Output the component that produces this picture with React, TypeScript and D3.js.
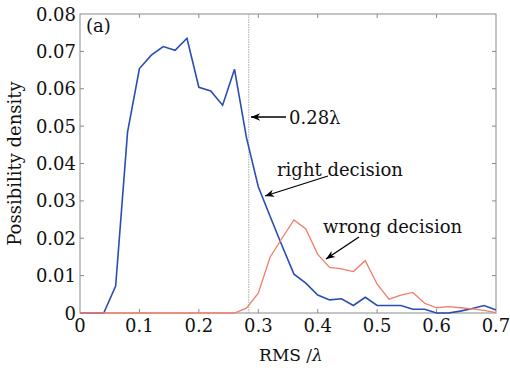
import * as d3 from 'd3';

// RMS/λ sampled every 0.02
const rms = d3.range(0, 36).map((i) => +(i * 0.02).toFixed(2));

const rightDecision = [
  0, 0, 0, 0.0072, 0.0484, 0.0654, 0.069, 0.0713, 0.0703, 0.0735, 0.0604, 0.0594, 0.0556, 0.0652, 0.047,
  0.0338, 0.0258, 0.018, 0.0104, 0.008, 0.0048, 0.0035, 0.0038, 0.002, 0.0042, 0.002, 0.002, 0.002, 0.001,
  0.001, 0.0, 0.0, 0.0005, 0.0012, 0.002, 0.0008,
];

const wrongDecision = [
  0, 0, 0, 0, 0, 0, 0, 0, 0, 0, 0, 0, 0, 0, 0.0013, 0.0053, 0.015, 0.02, 0.0249, 0.0225, 0.0157, 0.0122,
  0.0118, 0.0111, 0.014, 0.0077, 0.0037, 0.0048, 0.0055, 0.0026, 0.0014, 0.0017, 0.0014, 0.0011, 0.0007,
  0.0001,
];

const xTicks = [0, 0.1, 0.2, 0.3, 0.4, 0.5, 0.6, 0.7];
const yTicks = [0, 0.01, 0.02, 0.03, 0.04, 0.05, 0.06, 0.07, 0.08];
const threshold = 0.284;

export default function App() {
  const width = 510;
  const height = 370;
  const left = 80;
  const right = 496;
  const top = 14;
  const bottom = 313;

  const x = d3.scaleLinear().domain([0, 0.7]).range([left, right]);
  const y = d3.scaleLinear().domain([0, 0.08]).range([bottom, top]);

  const line = d3
    .line<number>()
    .x((_, i) => x(rms[i]))
    .y((d) => y(d));

  const font = 'DejaVu Serif, Liberation Serif, serif';
  const tickLen = 4;
  const frame = '#8a8a8a';

  return (
    <svg
      width={width}
      height={height}
      style={{ position: 'absolute', left: 0, top: 0, background: '#fff' }}
      fontFamily={font}
    >
      <defs>
        <marker id='arr' viewBox='0 0 10 10' refX='10' refY='5' markerWidth='9' markerHeight='7' orient='auto'>
          <path d='M0,1 L10,5 L0,9 L3,5 z' fill='#000' />
        </marker>
      </defs>
      <rect x={left} y={top} width={right - left} height={bottom - top} fill='#fff' stroke={frame} strokeWidth={1} />
      <g stroke={frame} strokeWidth={1}>
        {xTicks.slice(1, -1).map((t) => (
          <g key={'xt' + t}>
            <line x1={x(t)} x2={x(t)} y1={bottom} y2={bottom - tickLen} />
            <line x1={x(t)} x2={x(t)} y1={top} y2={top + tickLen} />
          </g>
        ))}
        {yTicks.slice(1, -1).map((t) => (
          <g key={'yt' + t}>
            <line x1={left} x2={left + tickLen} y1={y(t)} y2={y(t)} />
            <line x1={right} x2={right - tickLen} y1={y(t)} y2={y(t)} />
          </g>
        ))}
      </g>
      <g fontSize={18} fill='#111'>
        {xTicks.map((t) => (
          <text key={'xl' + t} x={x(t)} y={332} textAnchor='middle'>
            {t === 0 ? '0' : d3.format('.1f')(t)}
          </text>
        ))}
        {yTicks.map((t) => (
          <text key={'yl' + t} x={76} y={y(t) + 6.5} textAnchor='end'>
            {t === 0 ? '0' : d3.format('.2f')(t)}
          </text>
        ))}
      </g>
      <line
        x1={x(threshold)}
        x2={x(threshold)}
        y1={top}
        y2={bottom}
        stroke='#aaa'
        strokeWidth={1}
        strokeDasharray='1.5,1'
      />
      <path d={line(rightDecision) ?? ''} fill='none' stroke='#2a4db3' strokeWidth={1.6} />
      <path d={line(wrongDecision) ?? ''} fill='none' stroke='#f27d6b' strokeWidth={1.3} />

      <g stroke='#000' strokeWidth={1.3} markerEnd='url(#arr)'>
        <line x1={286} y1={117} x2={251} y2={117} />
        <line x1={328} y1={176} x2={265} y2={196} />
        <line x1={359} y1={237} x2={326} y2={259} />
      </g>
      <g fontSize={18} fill='#111'>
        <text x={289} y={124}>0.28λ</text>
        <text x={277} y={176}>right decision</text>
        <text x={323} y={233}>wrong decision</text>
        <text x={86} y={32}>(a)</text>
      </g>
      <text
        transform={`translate(21, ${(top + bottom) / 2 + 0}) rotate(-90)`}
        textAnchor='middle'
        fontSize={18}
        fill='#111'
      >
        Possibility density
      </text>
      <text x={291} y={361} textAnchor='middle' fontSize={17} fill='#111'>
        RMS /<tspan fontStyle='italic'>λ</tspan>
      </text>
    </svg>
  );
}
